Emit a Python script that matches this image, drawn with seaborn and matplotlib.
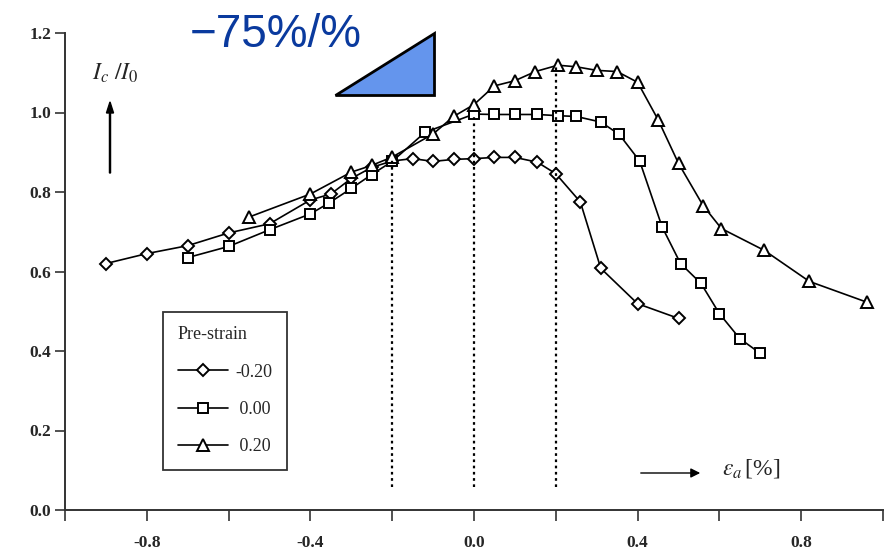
import numpy as np
import pandas as pd
import matplotlib
matplotlib.use("Agg")
import matplotlib.pyplot as plt
from matplotlib.patches import Polygon
import seaborn as sns

# ---------------- data ----------------
x_m020 = [-0.9, -0.8, -0.7, -0.6, -0.5, -0.4, -0.35, -0.3, -0.25, -0.2, -0.15, -0.1, -0.05,
          0.0, 0.05, 0.1, 0.155, 0.2, 0.26, 0.31, 0.4, 0.5]
y_m020 = [0.62, 0.645, 0.665, 0.697, 0.72, 0.78, 0.795, 0.834, 0.862, 0.878, 0.884, 0.877, 0.882,
          0.884, 0.887, 0.887, 0.875, 0.846, 0.775, 0.608, 0.519, 0.482]

x_000 = [-0.7, -0.6, -0.5, -0.4, -0.355, -0.3, -0.25, -0.2, -0.12, 0.0, 0.05, 0.1, 0.155,
         0.205, 0.25, 0.31, 0.355, 0.405, 0.46, 0.505, 0.555, 0.6, 0.65, 0.7]
y_000 = [0.635, 0.663, 0.705, 0.745, 0.772, 0.809, 0.844, 0.877, 0.95, 0.996, 0.995, 0.995, 0.995,
         0.992, 0.99, 0.976, 0.945, 0.878, 0.712, 0.62, 0.57, 0.494, 0.431, 0.394]

x_p020 = [-0.55, -0.4, -0.3, -0.25, -0.2, -0.1, -0.05, 0.0, 0.05, 0.1, 0.15, 0.205, 0.25,
          0.3, 0.35, 0.4, 0.45, 0.5, 0.56, 0.605, 0.71, 0.82, 0.96]
y_p020 = [0.737, 0.795, 0.85, 0.867, 0.888, 0.946, 0.99, 1.02, 1.067, 1.08, 1.103, 1.119, 1.115,
          1.106, 1.103, 1.076, 0.982, 0.872, 0.766, 0.708, 0.653, 0.575, 0.523]

series_labels = ["-0.20", "0.00", "0.20"]

vline_x = [-0.2, 0.0, 0.2]
vline_top = [0.88, 0.997, 1.115]
vline_bottom = 0.057

x_ticks = [-1.0, -0.8, -0.6, -0.4, -0.2, 0.0, 0.2, 0.4, 0.6, 0.8, 1.0]
x_ticklabels = ["", "-0.8", "", "-0.4", "", "0.0", "", "0.4", "", "0.8", ""]
y_ticks = [0.0, 0.2, 0.4, 0.6, 0.8, 1.0, 1.2]
y_ticklabels = ["0.0", "0.2", "0.4", "0.6", "0.8", "1.0", "1.2"]

slope_text = "\u221275%/%"
slope_tri_x = [-0.34, -0.098, -0.098]
slope_tri_y = [1.043, 1.043, 1.201]

# ---------------- style ----------------
sns.set_style("ticks")
plt.rcParams["font.family"] = ["Liberation Serif", "DejaVu Serif"]
plt.rcParams["mathtext.fontset"] = "stix"

fig = plt.figure(figsize=(8.84, 5.55), dpi=100)
ax = fig.add_axes([65 / 884, 45 / 555, 818 / 884, 477 / 555])

df = pd.concat([
    pd.DataFrame({"x": x_m020, "y": y_m020, "s": series_labels[0]}),
    pd.DataFrame({"x": x_000, "y": y_000, "s": series_labels[1]}),
    pd.DataFrame({"x": x_p020, "y": y_p020, "s": series_labels[2]}),
])

markers = {"-0.20": "D", "0.00": "s", "0.20": "^"}
msizes = {"-0.20": 6.3, "0.00": 7.8, "0.20": 8.3}
for lab in series_labels:
    sub = df[df["s"] == lab]
    sns.lineplot(data=sub, x="x", y="y", ax=ax, color="black", lw=1.2, sort=False,
                 marker=markers[lab], markersize=msizes[lab], markerfacecolor="white",
                 markeredgecolor="black", markeredgewidth=1.4, label=lab, legend=False)

ax.vlines(vline_x, vline_bottom, vline_top, colors="black", linestyles=(0, (1.2, 1.6)), lw=1.6)

ax.set_xlim(-1.0, 1.0)
ax.set_ylim(0.0, 1.2)
ax.set_xticks(x_ticks)
ax.set_xticklabels(x_ticklabels)
ax.set_yticks(y_ticks)
ax.set_yticklabels(y_ticklabels)
ax.set_xlabel("")
ax.set_ylabel("")
for lbl in ax.get_xticklabels() + ax.get_yticklabels():
    lbl.set_fontweight("bold")
    lbl.set_fontsize(12.5)
ax.tick_params(axis="x", direction="out", length=8, width=1.1, pad=10, color="#222222",
               bottom=True)
ax.tick_params(axis="y", direction="out", length=7, width=1.1, pad=3, color="#222222",
               left=True)
for side in ["top", "right"]:
    ax.spines[side].set_visible(False)
for side in ["left", "bottom"]:
    ax.spines[side].set_color("#333333")
    ax.spines[side].set_linewidth(1.4)

# legend
leg_handles = [plt.Line2D([], [], color="black", lw=1.2, marker=markers[l], markersize=msizes[l],
                          markerfacecolor="white", markeredgecolor="black", markeredgewidth=1.4)
               for l in series_labels]
leg = ax.legend(leg_handles, ["-0.20", " 0.00", " 0.20"], title="Pre-strain", loc="upper left",
                bbox_to_anchor=(0.12, 0.415), frameon=True, fancybox=False, edgecolor="black",
                fontsize=13, title_fontsize=13, handlelength=2.8, labelspacing=1.12,
                borderpad=0.8, handletextpad=0.4, borderaxespad=0)
leg._legend_box.align = "left"
leg.get_frame().set_linewidth(1.3)

# axis annotations
fig.text(92 / 884, 1 - 80 / 555, r"$I_c\ /I_0$", fontsize=17, ha="left", va="baseline")
fig.patches.append(matplotlib.patches.FancyArrow(110 / 884, 1 - 173 / 555, 0, 60 / 555,
                   width=0.0012, head_width=0.008, head_length=0.02, length_includes_head=False,
                   transform=fig.transFigure, color="black"))
ax.annotate("", xy=(703 / 884, 1 - 473 / 555), xytext=(638 / 884, 1 - 473 / 555),
            xycoords="figure fraction", textcoords="figure fraction",
            arrowprops=dict(arrowstyle="-|>", color="black", lw=1.0, mutation_scale=14))
fig.text(722 / 884, 1 - 475 / 555, r"$\varepsilon_a\,$[%]", fontsize=17, ha="left", va="baseline")

# slope overlay
tri = Polygon(np.column_stack([slope_tri_x, slope_tri_y]), closed=True, facecolor="#6495ED",
              edgecolor="black", lw=2, clip_on=False, zorder=5)
ax.add_patch(tri)
fig.text(190 / 884, 1 - 47 / 555, slope_text, fontsize=33, color="#0A3A9E",
         family=["Liberation Sans", "DejaVu Sans"], ha="left", va="baseline")

fig.savefig("out.png", dpi=100)
